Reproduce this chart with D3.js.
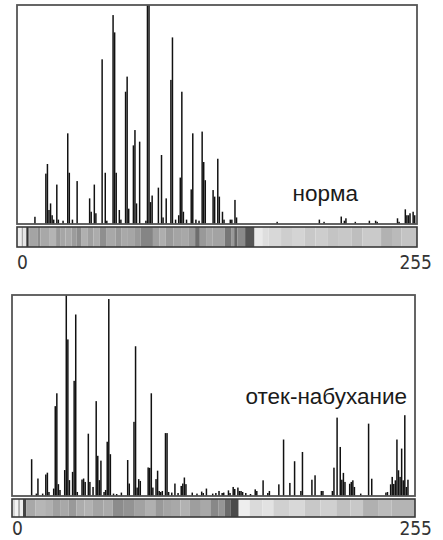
<!DOCTYPE html>
<html>
<head>
<meta charset="utf-8">
<script src="https://cdn.jsdelivr.net/npm/d3@7"></script>
<style>
  body { margin: 0; background: #fff; }
  svg { display: block; }
</style>
</head>
<body>
<div id="chart"></div>
<script>
// grey levels 0..255, heights as % of the tallest bin
var nBins = 256;
var tickLabels = ['0', '255'];

// норма
var normaBins = [11, 18, 19, 20, 21, 22, 23, 25, 26, 29, 32, 33, 35, 38, 46, 47, 49, 50, 54, 56, 57,
  61, 62, 63, 65, 66, 69, 70, 71, 74, 75, 76, 78, 82, 83, 84, 85, 86, 90, 92, 93, 95, 98, 99,
  101, 103, 104, 105, 106, 108, 111, 112, 114, 116, 118, 119, 120, 125, 126, 128, 129, 131, 132,
  136, 137, 139, 140, 166, 193, 196, 207, 209, 210, 216, 225, 229, 230, 243, 244, 248, 249, 250,
  251, 253, 254];
var normaCounts = [3.3, 23, 27.4, 6.4, 9.4, 4, 2, 18, 2, 1.5, 41.4, 23.4, 2, 19.6, 11.7, 5.6, 18, 4.9, 75.2, 23.4, 1.5,
  95.4, 87.5, 23.4, 6.4, 2, 60.4, 67.3, 7, 35.9, 42.9, 9.4, 37.6, 1.5, 100, 100, 10, 13, 16.6, 31.5, 3, 11.7, 65.8, 85.2,
  2, 4, 21.2, 60.4, 5.6, 2, 15.8, 41.4, 2, 1.5, 42.2, 28.3, 20, 15.5, 12.5, 29.8, 12.5, 5.6, 2,
  2, 2, 11, 3, 1, 2, 1, 3.4, 1.5, 2.6, 1, 1.5, 1.5, 1, 2.6, 1, 6.7, 4, 4,
  4.9, 5.6, 4];

// отек-набухание
var otekBins = [12, 15, 16, 19, 21, 22, 23, 26, 27, 28, 29, 30, 33, 34, 35, 36, 38, 39, 40, 41, 44, 45, 46,
  48, 49, 51, 53, 54, 55, 56, 58, 59, 60, 61, 62, 64, 66, 69, 73, 74, 77, 78, 79, 80, 81, 86, 87, 88,
  89, 91, 92, 93, 94, 95, 97, 98, 99, 101, 103, 105, 107, 108, 109, 110, 114, 117, 120, 121, 123, 127,
  129, 131, 133, 134, 137, 138, 140, 141, 143, 144, 145, 146, 148, 151, 154, 155, 159, 162, 163, 169,
  172, 176, 179, 183, 184, 190, 192, 196, 197, 203, 204, 206, 208, 209, 210, 211, 214, 215, 216, 217,
  221, 226, 228, 237, 238, 240, 241, 242, 243, 244, 245, 246, 247, 248, 249, 250, 251];
var otekCounts = [18.3, 1.2, 8.7, 1.2, 10.7, 11.6, 2, 3.7, 44.7, 51.1, 5.9, 3, 12.9, 100, 77.9, 7.9, 12, 57.3, 90.3, 2, 8.2, 8.7, 7,
  31, 7, 4.5, 47.2, 20, 7.9, 17.6, 2, 3, 27, 98, 20.8, 1.2, 1, 1.7, 17.9, 6.2, 36.9, 74.5, 4.2, 8.4, 7.5, 14.2, 14, 51.1,
  4.2, 8.4, 12.6, 2.5, 2, 2.5, 31.3, 31.3, 2, 1.7, 6.2, 1.5, 5, 6.2, 9.2, 5.9, 1.7, 1.2, 2.2, 1.5, 3.7, 1.2,
  1.5, 2.5, 1.5, 1.7, 2.8, 1.5, 4.5, 3.5, 4.2, 2.5, 2.5, 2, 1.5, 1, 3.3, 2.5, 7.8, 1.5, 2.5, 5.8,
  28.1, 6.5, 17.3, 2.5, 21.9, 8.1, 10.3, 2.5, 2.5, 2.5, 14.1, 39, 24.4, 8.1, 11.5, 7, 6.1, 7, 7.8, 4.5,
  1.2, 36, 8.6, 1.7, 2, 5.8, 9.5, 6, 7.8, 28.1, 12.8, 9.5, 23.6, 7.8, 40.2, 4.5, 8.1];

// grey strip under each histogram: [from bin, to bin, shade]
var normaStrip = [[0, 2, '#eeeeee'], [3, 3, '#aaaaaa'], [4, 5, '#e6e6e6'], [6, 6, '#222222'], [7, 7, '#777777'],
  [8, 12, '#a4a4a4'], [13, 14, '#8e8e8e'], [15, 20, '#a8a8a8'], [21, 24, '#b4b4b4'], [25, 27, '#999999'],
  [28, 30, '#a6a6a6'], [31, 34, '#aaaaaa'], [35, 37, '#9c9c9c'], [38, 40, '#8e8e8e'],
  [41, 44, '#b0b0b0'], [45, 48, '#a0a0a0'], [49, 52, '#acacac'], [53, 56, '#8f8f8f'], [57, 62, '#a8a8a8'], [63, 66, '#9a9a9a'],
  [67, 70, '#a9a9a9'], [71, 74, '#a6a6a6'], [75, 78, '#999999'], [79, 86, '#858585'], [87, 90, '#a0a0a0'], [91, 94, '#aeaeae'],
  [95, 99, '#9a9a9a'], [100, 104, '#a4a4a4'], [105, 109, '#a8a8a8'], [110, 113, '#9a9a9a'],
  [114, 116, '#6e6e6e'], [117, 120, '#999999'], [121, 124, '#a6a6a6'], [125, 132, '#a3a3a3'], [133, 136, '#777777'],
  [137, 138, '#999999'], [139, 140, '#666666'], [141, 145, '#8a8a8a'],
  [146, 151, '#555555'], [152, 156, '#eaeaea'], [157, 160, '#dedede'], [161, 168, '#d8d8d8'], [169, 175, '#cecece'],
  [176, 183, '#d4d4d4'], [184, 190, '#c8c8c8'], [191, 198, '#cdcdcd'], [199, 205, '#c4c4c4'],
  [206, 213, '#c8c8c8'], [214, 220, '#bebebe'], [221, 232, '#cacaca'], [233, 239, '#b2b2b2'], [240, 245, '#bababa'],
  [246, 255, '#c4c4c4']];
var otekStrip = [[0, 1, '#d8d8d8'], [2, 3, '#f4f4f4'], [4, 4, '#999999'], [5, 6, '#eeeeee'], [7, 8, '#444444'],
  [9, 14, '#a8a8a8'], [15, 20, '#b6b6b6'], [21, 25, '#b0b0b0'], [26, 30, '#a0a0a0'], [31, 35, '#a8a8a8'],
  [36, 40, '#999999'], [41, 45, '#acacac'], [46, 50, '#b2b2b2'], [51, 57, '#a4a4a4'], [58, 63, '#aaaaaa'],
  [64, 70, '#8c8c8c'], [71, 77, '#939393'], [78, 84, '#a2a2a2'], [85, 90, '#b0b0b0'], [91, 95, '#999999'],
  [96, 100, '#a4a4a4'], [101, 106, '#a8a8a8'], [107, 112, '#b2b2b2'], [113, 119, '#9e9e9e'], [120, 125, '#a8a8a8'],
  [126, 130, '#888888'], [131, 134, '#959595'], [135, 138, '#6a6a6a'], [139, 143, '#4a4a4a'], [144, 150, '#eeeeee'],
  [151, 158, '#dadada'], [159, 165, '#e2e2e2'], [166, 175, '#d0d0d0'], [176, 185, '#d8d8d8'], [186, 195, '#c8c8c8'],
  [196, 205, '#d0d0d0'], [206, 214, '#c0c0c0'], [215, 222, '#c8c8c8'], [223, 232, '#b0b0b0'], [233, 240, '#bbbbbb'],
  [241, 255, '#b4b4b4']];

var svg = d3.select('#chart')
  .append('svg')
    .attr('width', 443)
    .attr('height', 540);

function histogram(o) {
  var data = o.bins.map(function(b, i) { return { bin: b, value: o.counts[i] }; });

  var x = d3.scaleBand()
    .domain(d3.range(nBins))
    .range([o.left, o.right])
    .paddingInner(0.05);
  var y = d3.scaleLinear()
    .domain([0, 100])
    .range([o.bottom, o.top]);

  var g = svg.append('g');

  g.selectAll('rect.bar')
    .data(data)
    .enter()
    .append('rect')
      .attr('class', 'bar')
      .attr('x', d => x(d.bin))
      .attr('y', d => y(d.value))
      .attr('width', x.bandwidth())
      .attr('height', d => o.bottom - y(d.value))
      .attr('fill', '#111');

  // frame
  g.append('rect')
    .attr('x', o.left)
    .attr('y', o.top)
    .attr('width', o.right - o.left)
    .attr('height', o.bottom - o.top)
    .attr('fill', 'none')
    .attr('stroke', '#555')
    .attr('stroke-width', 1.8);

  // grey strip
  var xs = d3.scaleLinear().domain([0, nBins]).range([o.left, o.right]);
  g.selectAll('rect.strip')
    .data(o.strip)
    .enter()
    .append('rect')
      .attr('class', 'strip')
      .attr('x', d => xs(d[0]))
      .attr('y', o.stripTop)
      .attr('width', d => xs(d[1] + 1) - xs(d[0]))
      .attr('height', o.stripBottom - o.stripTop)
      .attr('fill', d => d[2]);
  g.append('rect')
    .attr('x', o.left)
    .attr('y', o.stripTop)
    .attr('width', o.right - o.left)
    .attr('height', o.stripBottom - o.stripTop)
    .attr('fill', 'none')
    .attr('stroke', '#3a3a3a')
    .attr('stroke-width', 1.6);

  g.append('text')
    .attr('x', o.left)
    .attr('y', o.tickY)
    .attr('font-family', '"DejaVu Sans Condensed", "Liberation Sans Narrow", sans-serif')
    .attr('font-size', '19px')
    .attr('fill', '#333')
    .text(tickLabels[0]);
  g.append('text')
    .attr('x', 432)
    .attr('y', o.tickY)
    .attr('text-anchor', 'end')
    .attr('font-family', '"DejaVu Sans Condensed", "Liberation Sans Narrow", sans-serif')
    .attr('font-size', '19px')
    .attr('fill', '#333')
    .text(tickLabels[1]);

  g.append('text')
    .attr('x', o.labelX)
    .attr('y', o.labelY)
    .attr('text-anchor', 'end')
    .attr('font-family', '"Liberation Sans", Arial, sans-serif')
    .attr('font-size', '22.5px')
    .attr('fill', '#1a1a1a')
    .text(o.label);
}

histogram({
  bins: normaBins, counts: normaCounts, strip: normaStrip, label: 'норма',
  left: 17, right: 417, top: 5, bottom: 224,
  stripTop: 227, stripBottom: 247, tickY: 269,
  labelX: 358, labelY: 201
});

histogram({
  bins: otekBins, counts: otekCounts, strip: otekStrip, label: 'отек-набухание',
  left: 12, right: 415, top: 295, bottom: 496,
  stripTop: 499, stripBottom: 517, tickY: 535,
  labelX: 407, labelY: 404
});
</script>
</body>
</html>
